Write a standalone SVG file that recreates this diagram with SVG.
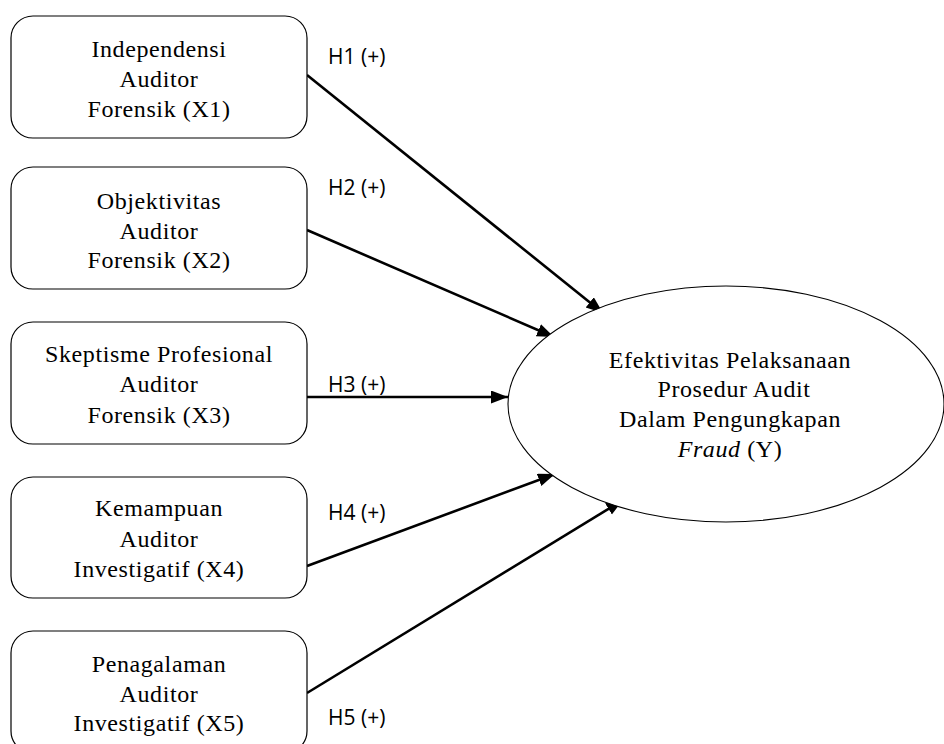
<svg xmlns="http://www.w3.org/2000/svg" width="944" height="744" viewBox="0 0 944 744">
<style>
.box{fill:#fff;stroke:#000;stroke-width:1.2}
.t{font-family:"Liberation Serif","Times New Roman",serif;font-size:24px;letter-spacing:0.6px;text-anchor:middle;fill:#000}
.h{font-family:"Open Sans","DejaVu Sans",sans-serif;font-size:21px;fill:#000}
.c{stroke:#000;stroke-width:2.6;fill:none;marker-end:url(#ah)}
</style>
<defs>
<marker id="ah" markerUnits="userSpaceOnUse" markerWidth="18" markerHeight="14" refX="17" refY="6.5" orient="auto">
<path d="M0,0 L17,6.5 L0,13 z" fill="#000"/>
</marker>
</defs>
<rect width="944" height="744" fill="#fff"/>
<g id="connectors">
<line class="c" x1="307" y1="75" x2="603" y2="313"/>
<line class="c" x1="307" y1="230" x2="554" y2="337"/>
<line class="c" x1="307" y1="397" x2="508" y2="397"/>
<line class="c" x1="307" y1="566" x2="555" y2="474"/>
<line class="c" x1="307" y1="693" x2="623" y2="500"/>
<text class="h" x="328" y="64">H1 (+)</text>
<text class="h" x="328" y="195">H2 (+)</text>
<text class="h" x="328" y="392">H3 (+)</text>
<text class="h" x="328" y="520">H4 (+)</text>
<text class="h" x="328" y="725">H5 (+)</text>
</g>
<g id="x1">
<rect class="box" x="11" y="16" width="296" height="122" rx="22"/>
<text class="t" x="159" y="57">Independensi</text>
<text class="t" x="159" y="87">Auditor</text>
<text class="t" x="159" y="117">Forensik (X1)</text>
</g>
<g id="x2">
<rect class="box" x="11" y="167" width="296" height="122" rx="22"/>
<text class="t" x="159" y="209">Objektivitas</text>
<text class="t" x="159" y="239">Auditor</text>
<text class="t" x="159" y="268">Forensik (X2)</text>
</g>
<g id="x3">
<rect class="box" x="11" y="322" width="296" height="122" rx="22"/>
<text class="t" x="159" y="362">Skeptisme Profesional</text>
<text class="t" x="159" y="392">Auditor</text>
<text class="t" x="159" y="423">Forensik (X3)</text>
</g>
<g id="x4">
<rect class="box" x="11" y="477" width="296" height="121" rx="22"/>
<text class="t" x="159" y="516">Kemampuan</text>
<text class="t" x="159" y="547">Auditor</text>
<text class="t" x="159" y="577">Investigatif (X4)</text>
</g>
<g id="x5">
<rect class="box" x="11" y="631" width="296" height="122" rx="22"/>
<text class="t" x="159" y="672">Penagalaman</text>
<text class="t" x="159" y="702">Auditor</text>
<text class="t" x="159" y="731">Investigatif (X5)</text>
</g>
<g id="y">
<ellipse cx="726" cy="404" rx="218" ry="118" fill="#fff" stroke="#000" stroke-width="1.1"/>
<text class="t" x="730" y="368">Efektivitas Pelaksanaan</text>
<text class="t" x="734" y="397">Prosedur Audit</text>
<text class="t" x="730" y="427">Dalam Pengungkapan</text>
<text class="t" x="730" y="457"><tspan font-style="italic">Fraud</tspan> (Y)</text>
</g>
</svg>
